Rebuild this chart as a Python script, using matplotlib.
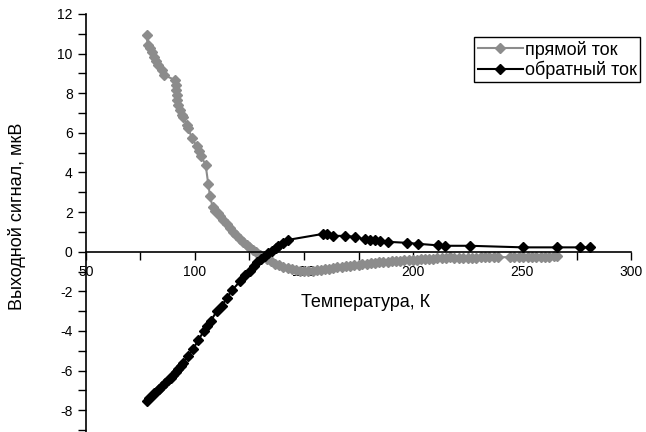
import matplotlib
matplotlib.use('Agg')
import matplotlib.pyplot as plt
from matplotlib.ticker import MultipleLocator

plt.rcParams['font.family'] = ['Liberation Sans', 'DejaVu Sans']
plt.rcParams['axes.unicode_minus'] = False

# прямой ток (forward current)
t_fwd = [77.8, 78.3, 79.4, 80.1, 81.2, 82.1, 83.2, 84.7, 85.8,
         90.8, 91.1, 91.3, 91.6, 91.9, 92.4, 93.1, 93.9, 94.6, 96.2, 96.9,
         98.5, 100.8, 101.8, 102.8, 104.9, 106.1, 106.9, 108.1,
         109.2, 110.5, 111.5, 113.0, 114.5, 116.0, 117.6, 119.0, 120.6, 122.0,
         123.7, 125.0, 126.7, 128.0, 129.8, 131.3, 132.9, 134.8, 136.7, 138.5,
         140.5, 142.5, 144.4, 146.3, 148.2, 150.0, 152.0, 154.0, 155.8, 157.7,
         159.6, 161.5, 163.4, 165.3, 167.2, 169.1, 171.1, 173.0, 175.0, 176.8,
         178.7, 180.6, 182.5, 184.5, 186.4, 188.3, 190.2, 192.1, 194.0, 196.0,
         198.0, 200.0, 201.7, 203.6, 205.5, 207.4, 209.3, 211.2, 213.1, 215.0,
         217.0, 219.0, 221.0, 223.0, 225.0, 227.0, 229.0, 231.0, 233.0, 235.0,
         237.0, 239.0,
         244.5, 246.5, 248.5, 250.5, 252.5, 254.5, 256.5, 258.5, 260.5, 262.5,
         264.5, 266.0]
v_fwd = [10.96, 10.46, 10.26, 10.09, 9.84, 9.62, 9.42, 9.17, 8.92,
         8.67, 8.42, 8.17, 7.92, 7.67, 7.42, 7.17, 6.92, 6.80, 6.42, 6.25,
         5.75, 5.33, 5.08, 4.83, 4.38, 3.41, 2.82, 2.24,
         2.07, 1.93, 1.82, 1.61, 1.40, 1.19, 0.99, 0.82, 0.65, 0.50,
         0.35, 0.24, 0.10, -0.01, -0.15, -0.25, -0.35, -0.48, -0.60, -0.69,
         -0.77, -0.84, -0.89, -0.94, -0.97, -0.98, -0.97, -0.96, -0.94, -0.92,
         -0.89, -0.86, -0.82, -0.79, -0.77, -0.74, -0.72, -0.69, -0.66, -0.63,
         -0.60, -0.58, -0.56, -0.54, -0.52, -0.50, -0.48, -0.46, -0.45, -0.44,
         -0.42, -0.41, -0.40, -0.39, -0.37, -0.36, -0.35, -0.34, -0.32, -0.30,
         -0.28, -0.32, -0.31, -0.31, -0.30, -0.30, -0.30, -0.29, -0.29, -0.28,
         -0.28, -0.28,
         -0.27, -0.27, -0.26, -0.26, -0.26, -0.25, -0.25, -0.25, -0.25, -0.25,
         -0.24, -0.24]

# обратный ток (reverse current)
t_rev = [78.0, 79.0, 80.2, 81.3, 82.5, 83.6, 84.8, 86.2, 87.6, 88.8,
         90.0, 91.2, 92.3, 93.4, 94.5, 96.9, 99.2, 101.6, 104.1, 105.5,
         107.2, 110.0, 112.3, 114.5, 117.0, 120.6, 123.0, 125.2, 127.0, 128.4,
         130.2, 132.0, 133.7, 135.3, 137.0, 138.0, 140.5, 142.8, 158.7, 160.5,
         163.3, 168.8, 173.4, 178.0, 180.3, 182.5, 184.9, 188.5, 197.0, 202.3,
         211.5, 214.7, 226.0, 250.5, 266.0, 276.6, 281.0]
v_rev = [-7.55, -7.40, -7.30, -7.15, -7.05, -6.95, -6.80, -6.65, -6.50, -6.35,
         -6.20, -6.05, -5.90, -5.75, -5.60, -5.25, -4.90, -4.45, -4.00, -3.75,
         -3.50, -3.00, -2.75, -2.35, -1.95, -1.50, -1.20, -0.95, -0.70, -0.50,
         -0.35, -0.20, -0.08, 0.05, 0.20, 0.30, 0.45, 0.60, 0.90, 0.88,
         0.80, 0.80, 0.75, 0.62, 0.60, 0.57, 0.55, 0.50, 0.45, 0.40,
         0.32, 0.30, 0.30, 0.22, 0.22, 0.22, 0.22]

fig = plt.figure(figsize=(6.46, 4.32), dpi=100)
ax = fig.add_axes([0.133, 0.0, 0.844, 0.9676])

ax.plot(t_fwd, v_fwd, color='#8c8c8c', lw=1.5, marker='D', ms=5.5,
        label='прямой ток')
ax.plot(t_rev, v_rev, color='black', lw=1.5, marker='D', ms=5.5,
        label='обратный ток')

ax.set_xlim(50, 300)
ax.set_ylim(-9.1, 12)

# x axis goes through zero
ax.spines['bottom'].set_position(('data', 0))
ax.spines['top'].set_visible(False)
ax.spines['right'].set_visible(False)
ax.spines['bottom'].set_linewidth(1.2)
ax.spines['left'].set_linewidth(1.2)

ax.xaxis.set_major_locator(MultipleLocator(50))
ax.xaxis.set_minor_locator(MultipleLocator(25))
ax.yaxis.set_major_locator(MultipleLocator(2))
ax.yaxis.set_minor_locator(MultipleLocator(1))
ax.tick_params(which='both', direction='out', length=6, width=1, labelsize=10)

ax.set_ylabel('Выходной сигнал, мкВ', fontsize=13)
ax.yaxis.set_label_coords(-0.11, 0.517)
ax.set_xlabel('Температура, К', fontsize=13)
ax.xaxis.set_label_coords(0.512, 0.33)

leg = ax.legend(loc='upper left', bbox_to_anchor=(0.734, 0.914),
                bbox_transform=fig.transFigure, borderaxespad=0,
                fontsize=13, fancybox=False, framealpha=1, numpoints=1,
                handlelength=2.5, handletextpad=0.1, borderpad=0.2,
                labelspacing=0.1)
leg.get_frame().set_edgecolor('black')
leg.get_frame().set_linewidth(1)

plt.savefig('out.png', dpi=100)
